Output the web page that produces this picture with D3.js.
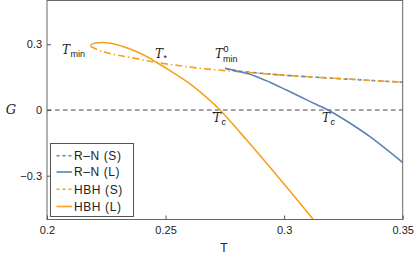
<!DOCTYPE html>
<html>
<head>
<meta charset="utf-8">
<script src="https://cdn.jsdelivr.net/npm/d3@7"></script>
<style>
body { margin: 0; background: #fff; }
svg { display: block; }
</style>
</head>
<body>
<div id="grafico"></div>
<script>

// dati
let rnST = [0.2751, 0.280, 0.290, 0.3025, 0.3193, 0.335, 0.35];
let rnSG = [0.191, 0.179, 0.168, 0.157, 0.146, 0.136, 0.127];

let rnLT = [0.2751, 0.280, 0.287, 0.294, 0.301, 0.310, 0.3185, 0.327, 0.3362, 0.35];
let rnLG = [0.191, 0.178, 0.158, 0.127, 0.091, 0.044, 0.0, -0.055, -0.122, -0.240];

let hbhST = [0.2184, 0.223, 0.228, 0.233, 0.240, 0.2463, 0.2561, 0.265, 0.275, 0.29, 0.3025, 0.3193, 0.335, 0.35];
let hbhSG = [0.290, 0.268, 0.254, 0.244, 0.230, 0.217, 0.202, 0.190, 0.180, 0.167, 0.157, 0.146, 0.136, 0.127];

let hbhLT = [0.2182, 0.2192, 0.2215, 0.225, 0.230, 0.235, 0.241, 0.2463, 0.253, 0.2603, 0.2687, 0.273, 0.2842, 0.2982, 0.3123, 0.316];
let hbhLG = [0.294, 0.302, 0.307, 0.307, 0.297, 0.278, 0.250, 0.217, 0.172, 0.119, 0.044, 0.0, -0.137, -0.315, -0.5, -0.55];

let xTicks = [0.2, 0.25, 0.3, 0.35];
let yTicks = [-0.3, 0, 0.3];
let legendLabels = ["R\u2013N (S)", "R\u2013N (L)", "HBH (S)", "HBH (L)"];

let blu = "#5e81b5";
let arancio = "#f7a21b";

let width = 415, height = 255;
let margin = { left: 47, top: 0.5, right: 12.3, bottom: 35.5 };

let svg = d3.select("#grafico")
    .append("svg")
    .attr("width", width)
    .attr("height", height)
    .style("font-family", "'Liberation Sans', Arial, sans-serif");

let x = d3.scaleLinear().domain([0.2, 0.35]).range([margin.left, width - margin.right]);
let y = d3.scaleLinear().domain([-0.5, 0.5]).range([height - margin.bottom, margin.top]);

svg.append("clipPath").attr("id", "clip")
    .append("rect")
    .attr("x", x(0.2)).attr("y", y(0.5))
    .attr("width", x(0.35) - x(0.2)).attr("height", y(-0.5) - y(0.5));

// linea dello zero
svg.append("line")
    .attr("x1", x(0.2)).attr("x2", x(0.35))
    .attr("y1", y(0)).attr("y2", y(0))
    .style("stroke", "#444")
    .style("stroke-width", 1)
    .style("stroke-dasharray", "4.5,3.5");

let line = d3.line()
    .x((d) => x(d[0]))
    .y((d) => y(d[1]))
    .curve(d3.curveCatmullRom.alpha(0.5));

function coppie(t, g) {
    return t.map((v, i) => [v, g[i]]);
}

let curve = [
    { dati: coppie(rnST, rnSG), colore: blu, dash: "4,3" },
    { dati: coppie(hbhST, hbhSG), colore: arancio, dash: "7,3,1.5,3" },
    { dati: coppie(rnLT, rnLG), colore: blu, dash: null },
    { dati: coppie(hbhLT, hbhLG), colore: arancio, dash: null }
];

let gCurve = svg.append("g").attr("clip-path", "url(#clip)");
curve.forEach((c) => {
    gCurve.append("path")
        .attr("d", line(c.dati))
        .style("fill", "none")
        .style("stroke", c.colore)
        .style("stroke-width", 1.6)
        .style("stroke-dasharray", c.dash);
});

// cornice
svg.append("rect")
    .attr("x", x(0.2)).attr("y", y(0.5))
    .attr("width", x(0.35) - x(0.2)).attr("height", y(-0.5) - y(0.5))
    .style("fill", "none")
    .style("stroke", "#666")
    .style("stroke-width", 1);

// assi
let xAxis = svg.append("g")
    .attr("transform", `translate(0,${y(-0.5)})`)
    .call(d3.axisBottom(x).tickValues(xTicks).tickSizeInner(-4).tickSizeOuter(0)
        .tickFormat((d) => d3.format("")(+d.toFixed(2))));
let yAxis = svg.append("g")
    .attr("transform", `translate(${x(0.2)},0)`)
    .call(d3.axisLeft(y).tickValues(yTicks).tickSizeInner(-4).tickSizeOuter(0)
        .tickFormat((d) => d === 0 ? "0" : d3.format(".1f")(d).replace("-", "\u2212")));

[xAxis, yAxis].forEach((a) => {
    a.select(".domain").remove();
    a.selectAll("line").style("stroke", "#555");
    a.selectAll("text")
        .style("font-family", "'Liberation Sans', Arial, sans-serif")
        .style("font-size", "11px")
        .style("fill", "#222");
});
xAxis.selectAll("text").attr("y", 7);
yAxis.selectAll("text").attr("x", -5);

// titoli assi
svg.append("text")
    .attr("x", 224).attr("y", 252)
    .attr("text-anchor", "middle")
    .style("font-size", "12px")
    .style("fill", "#222")
    .text("T");

svg.append("text")
    .attr("x", 11).attr("y", 114)
    .attr("text-anchor", "middle")
    .style("font-family", "'DejaVu Serif', serif")
    .style("font-style", "italic")
    .style("font-size", "13px")
    .style("fill", "#222")
    .text("G");

// etichette sul grafico
function etichetta(px, py, sub, sup) {
    let t = svg.append("text")
        .attr("x", px).attr("y", py)
        .style("font-family", "'DejaVu Serif', 'Liberation Serif', serif")
        .style("fill", "#222")
        .style("font-size", "12px");
    t.append("tspan").style("font-style", "italic").text("T");
    if (sup) {
        t.append("tspan").attr("dx", 0.5).attr("dy", -6).style("font-size", "9px")
            .style("font-family", "'Liberation Sans', Arial, sans-serif").text(sup);
        t.append("tspan").attr("x", px + 8).attr("dy", 10).style("font-size", "9px")
            .style("font-family", "'Liberation Sans', Arial, sans-serif").text(sub);
    } else {
        t.append("tspan").attr("dx", 0.5).attr("dy", 3).style("font-size", "9px")
            .style("font-family", "'Liberation Sans', Arial, sans-serif")
            .style("font-style", sub === "c" ? "italic" : "normal").text(sub);
    }
    return t;
}

etichetta(62, 54, "min");
etichetta(155, 58, "*");
etichetta(215, 58, "min", "0");
etichetta(213, 122, "c");
etichetta(322, 122, "c");
// barra sopra Tc
svg.append("line")
    .attr("x1", 212.5).attr("x2", 220)
    .attr("y1", 112.5).attr("y2", 112.5)
    .style("stroke", "#222").style("stroke-width", 1);

// legenda
let leg = svg.append("g");
leg.append("rect")
    .attr("x", 50.5).attr("y", 143.5)
    .attr("width", 83).attr("height", 73)
    .style("fill", "#fff")
    .style("stroke", "#555")
    .style("stroke-width", 1);

let legColori = [blu, blu, arancio, arancio];
let legDash = ["3,3", null, "3,3", null];
let legY = [155.7, 172, 189.3, 206.5];

legendLabels.forEach((lab, i) => {
    leg.append("line")
        .attr("x1", 56.5).attr("x2", 72)
        .attr("y1", legY[i]).attr("y2", legY[i])
        .style("stroke", legColori[i])
        .style("stroke-width", 1.6)
        .style("stroke-dasharray", legDash[i]);
    leg.append("text")
        .attr("x", 74).attr("y", legY[i] + 4.3)
        .style("font-size", "12px")
        .style("fill", "#222")
        .style("letter-spacing", "0.6px")
        .text(lab);
});

</script>
</body>
</html>
